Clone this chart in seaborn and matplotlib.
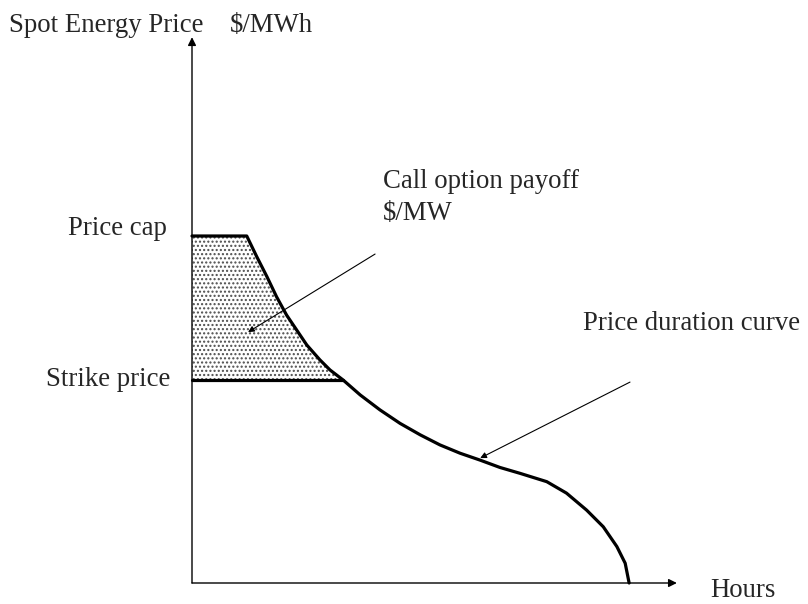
import matplotlib
matplotlib.use('Agg')
import matplotlib.pyplot as plt
import seaborn as sns
import pandas as pd

# price duration curve, hours as % of period, price in % of price cap
hours = [0, 12.5, 14.8, 17.1, 19.3, 21.6, 23.9, 26.2, 29.2, 31.5, 34.5,
         38.4, 42.9, 47.5, 52.1, 56.6, 61.2, 65.8, 70.3, 74.9, 81.0,
         85.5, 90.1, 93.9, 97.0, 98.9, 99.8]
price = [100, 100, 94.0, 88.3, 82.5, 77.2, 72.9, 68.6, 64.3, 61.4, 58.5,
         54.2, 49.9, 46.0, 42.7, 39.8, 37.4, 35.4, 33.3, 31.6, 29.2,
         25.9, 21.0, 16.2, 10.5, 5.7, 0]
price_cap = 100
strike_price = 58.5
strike_end = 34.5

sns.set_style('white')
plt.rcParams['font.family'] = ['Liberation Serif', 'DejaVu Serif']

fig = plt.figure(figsize=(8.08, 6.04), dpi=100)
ax = fig.add_axes([0, 0, 1, 1])
# origin of the sketch sits at pixel (192, 583)
ax.set_xlim(-192 / 4.38, (808 - 192) / 4.38)
ax.set_ylim(-(604 - 583) / 3.47, 583 / 3.47)
ax.axis('off')

df = pd.DataFrame({'hours': hours, 'price': price})

# shaded call option payoff area
sub = df[df.hours <= strike_end]
ax.fill_between(sub.hours, strike_price, sub.price, facecolor='white',
                edgecolor='0.3', hatch='....', linewidth=0, zorder=1)

sns.lineplot(data=df, x='hours', y='price', sort=False, color='black',
             linewidth=2.3, ax=ax, zorder=3, solid_joinstyle='round')
ax.plot([0, strike_end], [strike_price, strike_price], color='black',
        linewidth=2.3, zorder=3)

# axes with arrows
arrow = dict(arrowstyle='-|>', color='black', lw=1.0, mutation_scale=12,
             shrinkA=0, shrinkB=0)
ax.annotate('', xy=(0, 157.3), xytext=(0, 0), arrowprops=arrow)
ax.annotate('', xy=(110.7, 0), xytext=(0, 0), arrowprops=arrow)

thin = dict(arrowstyle='-|>', color='black', lw=0.8, mutation_scale=9,
            shrinkA=0, shrinkB=0)
ax.annotate('', xy=(12.8, 72.3), xytext=(41.8, 94.8), arrowprops=thin)
ax.annotate('', xy=(65.8, 36.0), xytext=(100, 57.9), arrowprops=thin)

fs = 19.3
def label(px, py, s):
    fig.text(px / 808, 1 - py / 604, s, fontsize=fs, va='baseline', ha='left')

label(9, 32, 'Spot Energy Price')
label(230, 32, '$/MWh')
label(68, 235, 'Price cap')
label(46, 386, 'Strike price')
label(383, 188, 'Call option payoff')
label(383, 220, '$/MW')
label(583, 330, 'Price duration curve')
label(710, 597, 'Hours')

fig.savefig('out.png', dpi=100)
